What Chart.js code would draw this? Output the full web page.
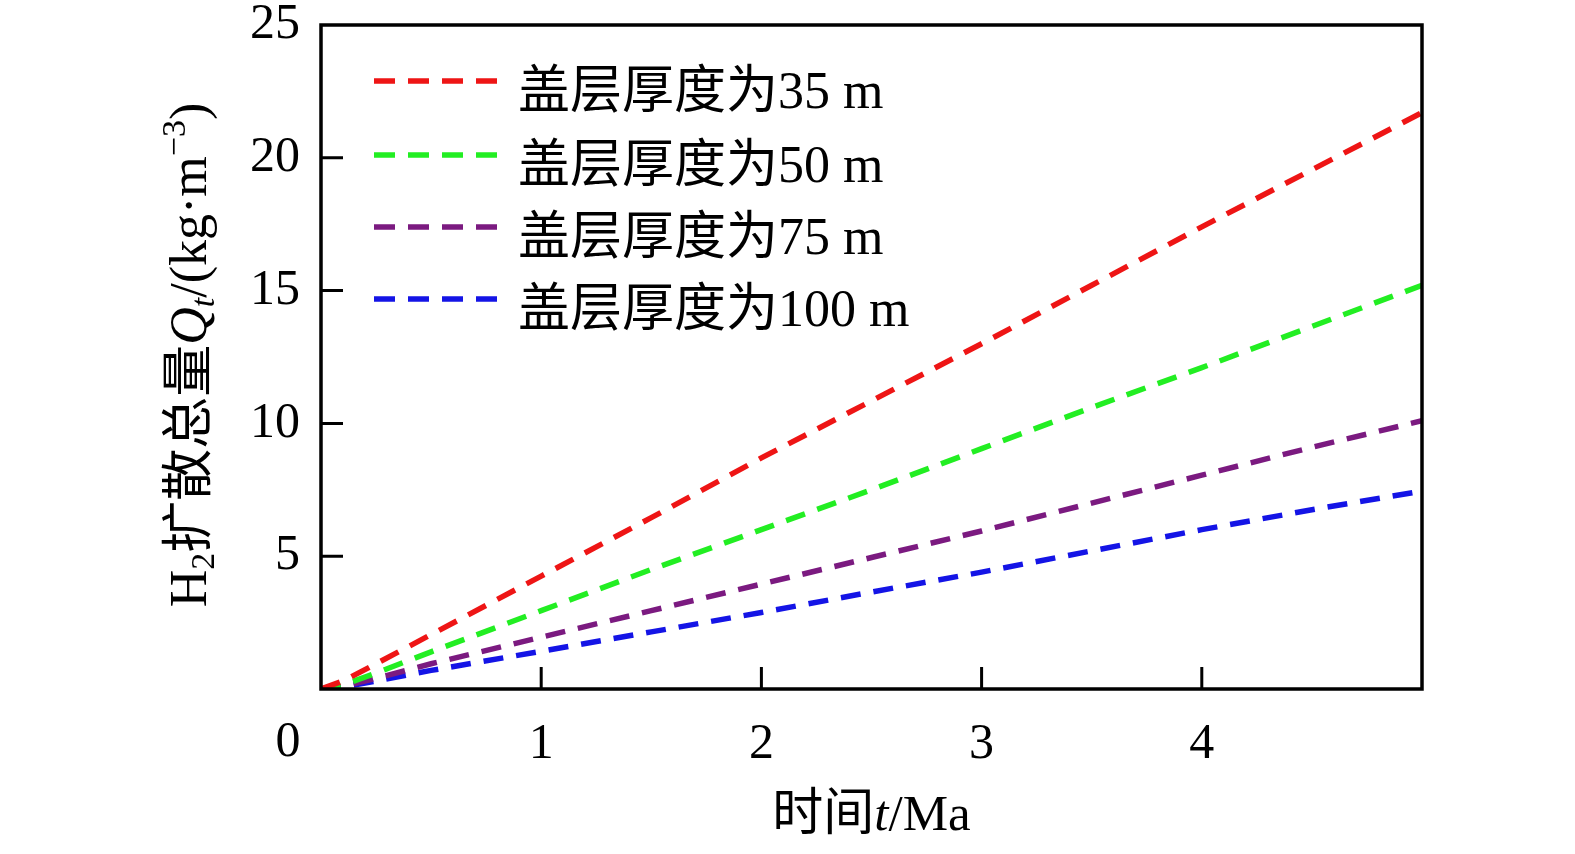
<!DOCTYPE html>
<html>
<head>
<meta charset="utf-8">
<script src="https://cdn.jsdelivr.net/npm/chart.js@4/dist/chart.umd.min.js"></script>
<style>
html,body{margin:0;padding:0;background:#fff;}
#wrap{width:1575px;height:854px;position:relative;}
</style>
</head>
<body>
<div id="wrap"><canvas id="c"></canvas></div>
<script>
// ---- data ----
const timeMa = [0, 0.1, 0.25, 0.5, 1, 1.5, 2, 2.5, 3, 3.5, 4, 4.5, 5];
const q35  = [0, 0.3, 0.95, 2.05, 4.25, 6.45, 8.7, 10.85, 13.0, 15.2, 17.4, 19.55, 21.7];
const q50  = [0, 0.15, 0.6, 1.4, 2.95, 4.5, 6.0, 7.5, 9.05, 10.6, 12.1, 13.65, 15.2];
const q75  = [0, 0.1, 0.4, 0.95, 1.95, 2.95, 3.95, 4.95, 5.95, 7.0, 8.05, 9.1, 10.1];
const q100 = [0, 0.07, 0.3, 0.7, 1.42, 2.15, 2.88, 3.65, 4.4, 5.2, 6.0, 6.75, 7.45];
const seriesLabels = ['盖层厚度为35 m', '盖层厚度为50 m', '盖层厚度为75 m', '盖层厚度为100 m'];
const seriesColors = ['#ee1515', '#22ee22', '#7b1a80', '#1414e6'];
const xTickLabels = ['', '1', '2', '3', '4', ''];
const yTickLabels = ['', '5', '10', '15', '20', '25'];

const FONT = '"Liberation Serif", "Noto Sans CJK SC", serif';
const FS = 50;

const allSeries = [q35, q50, q75, q100];
const datasets = allSeries.map((arr, i) => ({
  label: seriesLabels[i],
  data: arr.map((v, k) => ({x: timeMa[k], y: v})),
  borderColor: seriesColors[i],
  backgroundColor: seriesColors[i],
  borderWidth: 5.5,
  borderDash: [20, 13],
  borderCapStyle: 'butt',
  pointRadius: 0,
  fill: false,
  tension: 0
}));

function drawRich(ctx, segs, x, y, align) {
  let total = 0;
  segs.forEach(s => {
    ctx.font = (s.style === 'i' ? 'italic ' : '') + s.size + 'px ' + FONT;
    s.w = ctx.measureText(s.t).width;
    total += s.w;
  });
  let cx = align === 'center' ? x - total / 2 : x;
  segs.forEach(s => {
    ctx.font = (s.style === 'i' ? 'italic ' : '') + s.size + 'px ' + FONT;
    ctx.fillText(s.t, cx, y + (s.dy || 0));
    cx += s.w;
  });
}

const decor = {
  id: 'decor',
  afterDraw(chart) {
    const ctx = chart.ctx;
    const a = chart.chartArea;
    const xs = chart.scales.x, ys = chart.scales.y;
    ctx.save();
    // frame
    ctx.strokeStyle = '#000';
    ctx.lineWidth = 3.5;
    ctx.strokeRect(a.left, a.top, a.right - a.left, a.bottom - a.top);
    // inward ticks
    ctx.lineWidth = 3;
    ctx.beginPath();
    [1, 2, 3, 4].forEach(v => {
      const px = xs.getPixelForValue(v);
      ctx.moveTo(px, a.bottom);
      ctx.lineTo(px, a.bottom - 22);
    });
    [5, 10, 15, 20].forEach(v => {
      const py = ys.getPixelForValue(v);
      ctx.moveTo(a.left, py);
      ctx.lineTo(a.left + 22, py);
    });
    ctx.stroke();

    ctx.fillStyle = '#000';
    ctx.textBaseline = 'alphabetic';
    ctx.textAlign = 'left';
    // origin label
    ctx.font = FS + 'px ' + FONT;
    ctx.textAlign = 'center';
    ctx.fillText('0', xs.getPixelForValue(0) - 33, a.bottom + 67);
    ctx.textAlign = 'left';

    // x title
    drawRich(ctx, [
      {t: '时间', style: 'n', size: 51},
      {t: 't', style: 'i', size: 51},
      {t: '/Ma', style: 'n', size: 51}
    ], (a.left + a.right) / 2, 830, 'center');

    // y title (rotated)
    ctx.save();
    ctx.translate(188, 355);
    ctx.rotate(-Math.PI / 2);
    drawRich(ctx, [
      {t: 'H', style: 'n', size: 52},
      {t: '2', style: 'n', size: 34, dy: 8},
      {t: '扩散总量', style: 'n', size: 52},
      {t: 'Q', style: 'i', size: 52},
      {t: 't', style: 'i', size: 34, dy: 8},
      {t: '/(kg·m', style: 'n', size: 52},
      {t: '−3', style: 'n', size: 34, dy: -21},
      {t: ')', style: 'n', size: 52}
    ], 0, 18, 'center');
    ctx.restore();

    // legend
    const rowY = [81, 155, 227, 299];
    chart.data.datasets.forEach((ds, i) => {
      ctx.save();
      ctx.strokeStyle = ds.borderColor;
      ctx.lineWidth = 5.5;
      ctx.setLineDash([21, 13]);
      ctx.beginPath();
      ctx.moveTo(374, rowY[i]);
      ctx.lineTo(503, rowY[i]);
      ctx.stroke();
      ctx.restore();
      ctx.font = '52px ' + FONT;
      ctx.fillStyle = '#000';
      ctx.fillText(ds.label, 518, rowY[i] + 27);
    });
    ctx.restore();
  }
};

new Chart(document.getElementById('c'), {
  type: 'line',
  data: {datasets},
  options: {
    responsive: true,
    maintainAspectRatio: false,
    animation: false,
    devicePixelRatio: 1,
    layout: {padding: {left: 0, top: 25, right: 153, bottom: 0}},
    plugins: {legend: {display: false}, tooltip: {enabled: false}},
    scales: {
      x: {
        type: 'linear', min: 0, max: 5,
        grid: {display: false, drawTicks: false},
        border: {display: false},
        ticks: {
          stepSize: 1, padding: 26, color: '#000',
          font: {family: FONT, size: FS},
          callback: (v) => xTickLabels[Math.round(v)]
        },
        afterFit: (s) => { s.height = 165; s.paddingLeft = 0; s.paddingRight = 0; }
      },
      y: {
        type: 'linear', min: 0, max: 25,
        grid: {display: false, drawTicks: false},
        border: {display: false},
        ticks: {
          stepSize: 5, padding: 21, color: '#000',
          font: {family: FONT, size: FS},
          callback: (v) => yTickLabels[Math.round(v / 5)]
        },
        afterFit: (s) => { s.width = 321; s.paddingTop = 0; s.paddingBottom = 0; }
      }
    }
  },
  plugins: [decor]
});
</script>
</body>
</html>
